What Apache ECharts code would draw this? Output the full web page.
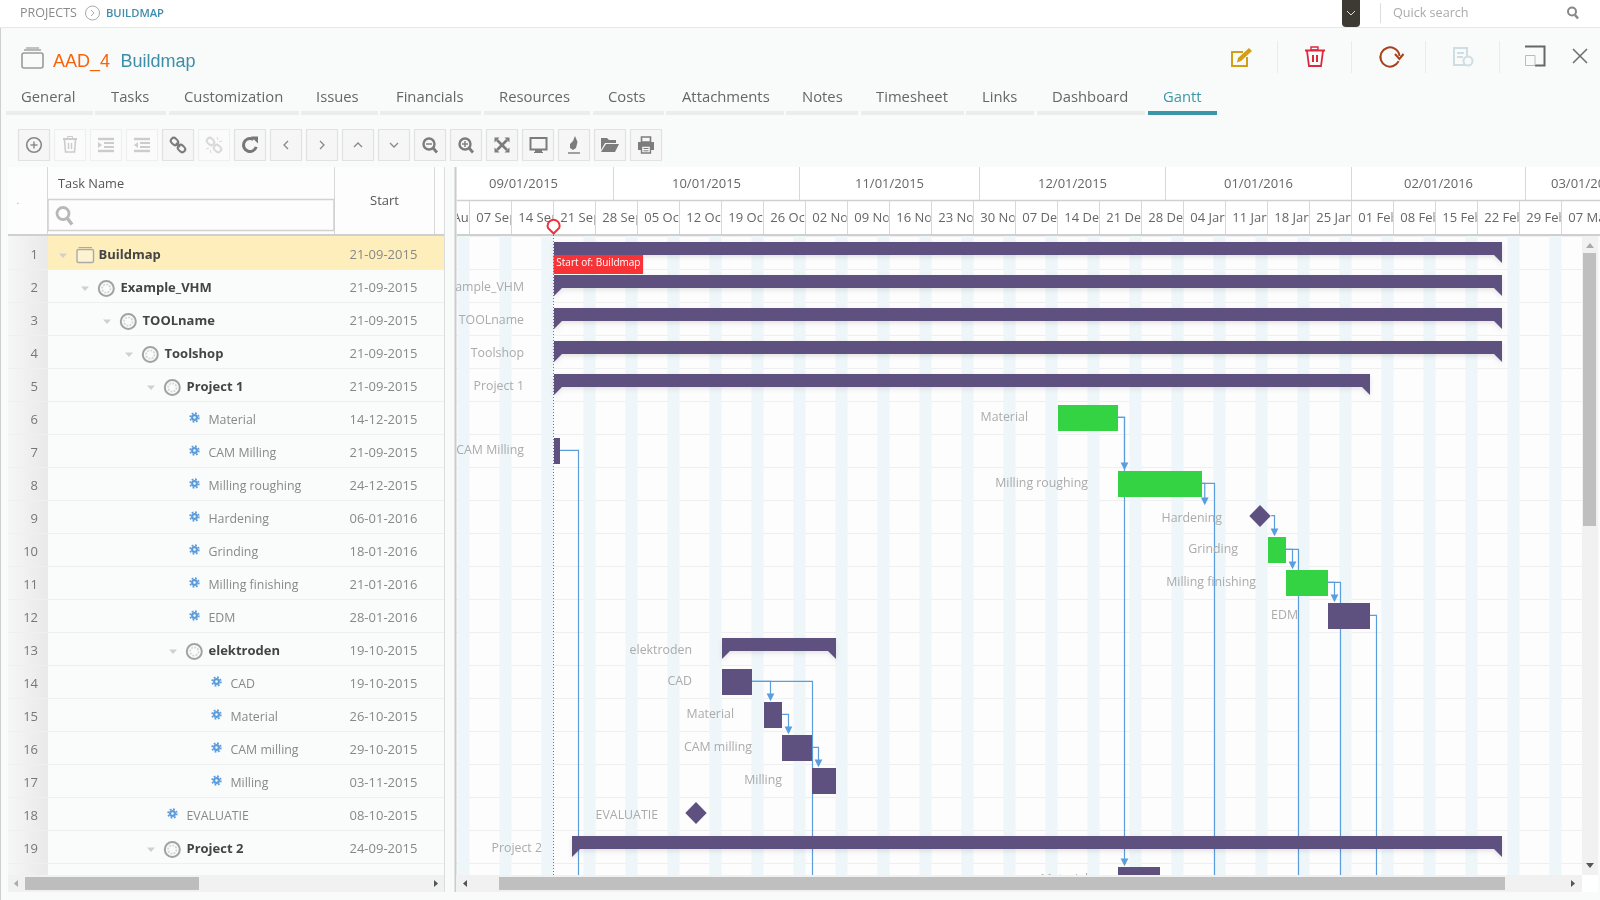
<!DOCTYPE html>
<html><head><meta charset="utf-8"><title>Buildmap Gantt</title>
<script src="https://cdn.jsdelivr.net/npm/echarts@6/dist/echarts.min.js"></script>
<style>html,body{margin:0;padding:0;background:#f9fbfa}#c{width:1600px;height:900px}</style></head>
<body><div id="c"></div><script>
// ---------- data ----------
const taskNames=['Buildmap','Example_VHM','TOOLname','Toolshop','Project 1','Material','CAM Milling','Milling roughing','Hardening','Grinding','Milling finishing','EDM','elektroden','CAD','Material','CAM milling','Milling','EVALUATIE','Project 2','Material'];
const startLabels=['21-09-2015','21-09-2015','21-09-2015','21-09-2015','21-09-2015','14-12-2015','21-09-2015','24-12-2015','06-01-2016','18-01-2016','21-01-2016','28-01-2016','19-10-2015','19-10-2015','26-10-2015','29-10-2015','03-11-2015','08-10-2015','24-09-2015'];
const treeLevels=[0,1,2,3,4,5,5,5,5,5,5,5,5,6,6,6,6,4,4,5];
const taskKinds=['S','S','S','S','S','T','T','T','M','T','T','T','S','T','T','T','T','M','S','T'];
const barStarts=['2015-09-21','2015-09-21','2015-09-21','2015-09-21','2015-09-21','2015-12-14','2015-09-21','2015-12-24','2016-01-16T18:00:00Z','2016-01-18','2016-01-21','2016-01-28','2015-10-19','2015-10-19','2015-10-26','2015-10-29','2015-11-03','2015-10-14T18:00:00Z','2015-09-24','2015-12-24'];
const barEnds=['2016-02-26','2016-02-26','2016-02-26','2016-02-26','2016-02-04','2015-12-24','2015-09-22','2016-01-07','2016-01-16T18:00:00Z','2016-01-21','2016-01-28','2016-02-04','2015-11-07','2015-10-24','2015-10-29','2015-11-03','2015-11-07','2015-10-14T18:00:00Z','2016-02-26','2015-12-31'];
const criticalFlags=[0,0,0,0,0,1,0,1,0,1,1,0,0,0,0,0,0,0,0,0];
const linkFrom=[7,6,6,8,8,9,10,10,11,11,12,14,14,15,16];
const linkTo=[25,8,20,9,25,10,11,25,12,25,25,15,25,16,17];
const linkTargetDates=['2015-09-24','2015-12-24','2015-12-24','2016-01-06T09:00:00Z','2016-01-08','2016-01-18','2016-01-21','2016-01-22','2016-01-28','2016-01-29','2016-02-04','2015-10-26','2015-11-02','2015-10-29','2015-11-03'];
const monthLabels=['09/01/2015','10/01/2015','11/01/2015','12/01/2015','01/01/2016','02/01/2016','03/01/2016'];
const monthStarts=['2015-09-01','2015-10-01','2015-11-01','2015-12-01','2016-01-01','2016-02-01','2016-03-01'];
const monthEnds=['2015-10-01','2015-11-01','2015-12-01','2016-01-01','2016-02-01','2016-03-01','2016-03-21'];
const weekLabels=['31 Aug','07 Sep','14 Sep','21 Sep','28 Sep','05 Oct','12 Oct','19 Oct','26 Oct','02 Nov','09 Nov','16 Nov','23 Nov','30 Nov','07 Dec','14 Dec','21 Dec','28 Dec','04 Jan','11 Jan','18 Jan','25 Jan','01 Feb','08 Feb','15 Feb','22 Feb','29 Feb','07 Mar'];
const weekStarts=['2015-08-31','2015-09-07','2015-09-14','2015-09-21','2015-09-28','2015-10-05','2015-10-12','2015-10-19','2015-10-26','2015-11-02','2015-11-09','2015-11-16','2015-11-23','2015-11-30','2015-12-07','2015-12-14','2015-12-21','2015-12-28','2016-01-04','2016-01-11','2016-01-18','2016-01-25','2016-02-01','2016-02-08','2016-02-15','2016-02-22','2016-02-29','2016-03-07'];
const weekendStarts=['2015-09-05','2015-09-12','2015-09-19','2015-09-26','2015-10-03','2015-10-10','2015-10-17','2015-10-24','2015-10-31','2015-11-07','2015-11-14','2015-11-21','2015-11-28','2015-12-05','2015-12-12','2015-12-19','2015-12-26','2016-01-02','2016-01-09','2016-01-16','2016-01-23','2016-01-30','2016-02-06','2016-02-13','2016-02-20','2016-02-27','2016-03-05'];
const weekendEnds=['2015-09-07','2015-09-14','2015-09-21','2015-09-28','2015-10-05','2015-10-12','2015-10-19','2015-10-26','2015-11-02','2015-11-09','2015-11-16','2015-11-23','2015-11-30','2015-12-07','2015-12-14','2015-12-21','2015-12-28','2016-01-04','2016-01-11','2016-01-18','2016-01-25','2016-02-01','2016-02-08','2016-02-15','2016-02-22','2016-02-29','2016-03-07'];
const projectStart='2015-09-21';
const tabLabels=['General','Tasks','Customization','Issues','Financials','Resources','Costs','Attachments','Notes','Timesheet','Links','Dashboard','Gantt'];
// ---------- page furniture ----------
const OS='"Open Sans"';
const PURPLE='#5e517f',GREEN='#33d344',LINK='#5a9edd';
const tabTextX=[21,111,184,316,396,499,608,682,802,876,982,1052,1163];
const tabEdges=[[6,93],[95,166],[169,299],[301,378],[380,481],[484,590],[593,664],[666,784],[786,858],[861,964],[966,1034],[1037,1145],[1148,1217]];
const G=[];
const R=(x,y,w,h,fill,stroke,lw,r)=>G.push({type:'rect',z:1,silent:true,shape:{x,y,width:w,height:h,r:r||0},style:{fill:fill||'none',stroke:stroke||'none',lineWidth:lw||1}});
const L=(x1,y1,x2,y2,c,w)=>G.push({type:'line',z:1,silent:true,shape:{x1,y1,x2,y2},style:{stroke:c,lineWidth:w||1}});
const C=(cx,cy,r,fill,stroke,lw,dash)=>G.push({type:'circle',z:1,silent:true,shape:{cx,cy,r},style:{fill:fill||'none',stroke:stroke||'none',lineWidth:lw||1,lineDash:dash||null}});
const A=(cx,cy,r,s,e,c,w)=>G.push({type:'arc',z:1,silent:true,shape:{cx,cy,r,startAngle:s,endAngle:e,clockwise:true},style:{stroke:c,lineWidth:w,fill:'none'}});
const P=(pts,fill)=>G.push({type:'polygon',z:1,silent:true,shape:{points:pts},style:{fill}});
const PL=(pts,c,w)=>G.push({type:'polyline',z:1,silent:true,shape:{points:pts},style:{stroke:c,lineWidth:w||1,fill:'none'}});
const T=(x,y,text,font,fill,align)=>G.push({type:'text',z:1,silent:true,x,y,style:{text,font,fill,align:align||'left',textAlign:align||'left',verticalAlign:'middle',textVerticalAlign:'middle'}});

// top bar
R(0,0,1600,27,'#ffffff');L(0,27.5,1600,27.5,'#e8e8e8',1);L(0.5,28,0.5,900,'#cfcfcf',1);
T(20,13.5,'PROJECTS','12.5px '+OS,'#8a8a8a');C(92.5,13,7,null,'#aaa',1);PL([[91,10],[94,13],[91,16]],'#aaa',1);
T(106,13.5,'BUILDMAP','600 11.2px '+OS,'#3d8caa');
R(1342,-6,18,33,'#3d3a33',null,1,4);PL([[1347,11],[1351,15],[1355,11]],'#ddd',1);
L(1380.5,3,1380.5,23,'#dddddd',1);T(1393,13,'Quick search','12.6px '+OS,'#aaaaaa');
C(1572,11.5,4,null,'#888',2);L(1575,15,1578,18.5,'#888',2.5);
// title
R(22,53,21,15,null,'#9a9a9a',1.6,2);L(24,50,41,50,'#9a9a9a',1.4);L(26,48,39,48,'#9a9a9a',1.2);
T(53,62,'AAD_4','18px "Liberation Sans"','#f8630a');T(120.5,62,'Buildmap','18px "Liberation Sans"','#3d8ea6');
// action icons
[1277.5,1351.5,1425.5,1499.5].forEach(x=>L(x,41,x,73,'#e9ecec',1));
PL([[1243,52],[1232,52],[1232,66],[1247,66],[1247,57]],'#d49f14',2);P([[1249,48],[1252,51],[1241,61],[1237,62.5],[1238,58]],'#d49f14');
L(1305,50.5,1325,50.5,'#e0263c',2);R(1311,47,7,3,null,'#e0263c',1.4);PL([[1307,51],[1309,66],[1321,66],[1323,51]],'#e0263c',1.8);L(1313,55,1313,62,'#e0263c',2);L(1317,55,1317,62,'#e0263c',2);
A(1390,57,9.6,0.45,6.18,'#a8401a',2);PL([[1395,54],[1399.4,59],[1403.5,54]],'#a8401a',2);
R(1454,48,13,17,null,'#cfdde4',2);C(1468,61,4.5,'#f9fbfa','#cfdde4',2);L(1457,53,1464,53,'#cfdde4',2);L(1457,57,1463,57,'#cfdde4',2);
PL([[1525,46.5],[1544.5,46.5],[1544.5,65.5],[1535,65.5]],'#666',2);R(1525.5,55.5,9.5,10,null,'#bbbbbb',1);
L(1573,49,1587,63,'#707070',1.6);L(1587,49,1573,63,'#707070',1.6);
// tabs
tabLabels.forEach((t,i)=>{const on=t==='Gantt';T(tabTextX[i],98,t,'14.8px '+OS,on?'#3f98a9':'#666');
 R(tabEdges[i][0],111,tabEdges[i][1]-tabEdges[i][0],4,on?'#3b97a8':'#ececec');});
// toolbar
const dim=[1,2,3,5];
for(let i=0;i<18;i++){const off=dim.includes(i);R(18.5+36*i,129.5,31,31,off?'#fbfbfb':'#f6f6f6',off?'#efefef':'#e2e2e2',1.2);}
const bx=i=>34+36*i,cy=145,ic='#7c7c7c',id='#cccccc';
C(bx(0),cy,7.3,null,'#888',1.6);L(bx(0)-3.5,cy,bx(0)+3.5,cy,'#888',1.4);L(bx(0),cy-3.5,bx(0),cy+3.5,'#888',1.4);
{const x=bx(1);L(x-7,cy-6,x+7,cy-6,id,2);R(x-2.5,cy-8.5,5,2.5,null,id,1);PL([[x-5.5,cy-5],[x-4.5,cy+7],[x+4.5,cy+7],[x+5.5,cy-5]],id,1.6);L(x-1.5,cy-2,x-1.5,cy+4,id,1.4);L(x+1.5,cy-2,x+1.5,cy+4,id,1.4);}
[2,3].forEach(i=>{const x=bx(i);L(x-8,cy-6,x+8,cy-6,id,2.4);L(x-8,cy+6,x+8,cy+6,id,2.4);const a=i==2?x-2:x-2,b=i==2?x+8:x+8;[-2,2].forEach(d=>L(a,cy+d,b,cy+d,id,2));
 P(i==2?[[x-8,cy-3],[x-4,cy],[x-8,cy+3]]:[[x-4,cy-3],[x-8,cy],[x-4,cy+3]],id);});
[[4,ic],[5,'#d9d9d9']].forEach(([i,c])=>{const x=bx(i);G.push({type:'rect',z:1,silent:true,x:x-3.5,y:cy-3.5,rotation:-Math.PI/4,originX:0,originY:0,shape:{x:-4,y:-3,width:8,height:6,r:3},style:{fill:'none',stroke:c,lineWidth:2}});
 G.push({type:'rect',z:1,silent:true,x:x+3.5,y:cy+3.5,rotation:-Math.PI/4,shape:{x:-4,y:-3,width:8,height:6,r:3},style:{fill:'none',stroke:c,lineWidth:2}});if(i==4)L(x-2,cy-2,x+2,cy+2,c,2);
 else{L(x+3,cy-8,x+4,cy-5,c,1);L(x+8,cy-4,x+5,cy-3,c,1);L(x-3,cy+8,x-4,cy+5,c,1);L(x-8,cy+4,x-5,cy+3,c,1);}});
A(bx(6),cy,6.5,0.3,5.3,'#777',3);P([[bx(6)+1,cy-8.5],[bx(6)+8,cy-8.5],[bx(6)+8,cy-1.5]],'#777');
PL([[bx(7)+2,cy-4],[bx(7)-2,cy],[bx(7)+2,cy+4]],'#888',1.3);PL([[bx(8)-2,cy-4],[bx(8)+2,cy],[bx(8)-2,cy+4]],'#888',1.3);
PL([[bx(9)-4,cy+2],[bx(9),cy-2],[bx(9)+4,cy+2]],'#888',1.3);PL([[bx(10)-4,cy-2],[bx(10),cy+2],[bx(10)+4,cy-2]],'#888',1.3);
[11,12].forEach(i=>{const x=bx(i)-1;C(x,cy-1,5.5,null,ic,2.4);L(x+4,cy+3,x+8,cy+7.5,ic,2.8);L(x-3,cy-1,x+3,cy-1,ic,1.4);if(i==12)L(x,cy-4,x,cy+2,ic,1.4);});
{const x=bx(13);L(x-5,cy-5,x+5,cy+5,ic,2.6);L(x+5,cy-5,x-5,cy+5,ic,2.6);[[-1,-1],[1,-1],[-1,1],[1,1]].forEach(([a,b])=>P([[x+a*7.5,cy+b*7.5],[x+a*2.5,cy+b*7.5],[x+a*7.5,cy+b*2.5]],ic));}
{const x=bx(14);R(x-7.5,cy-7,16,11.5,'#f6f6f6',ic,2);R(x-3,cy+5,7,2.5,ic);L(x-4,cy+7.5,x+5,cy+7.5,ic,1);}
{const x=bx(15);P([[x+1,cy-9],[x+3.5,cy-3],[x+2,cy+3],[x-1,cy+5],[x-4,cy+3],[x-4,cy-1],[x-1,cy-4]],ic);L(x-6,cy+8,x+6,cy+8,ic,1.4);}
{const x=bx(16);P([[x-9,cy-7],[x-3,cy-7],[x-1,cy-5],[x+6,cy-5],[x+6,cy-2],[x-5,cy-2],[x-9,cy+5]],ic);P([[x-4,cy-1],[x+9,cy-1],[x+5,cy+7],[x-9,cy+7]],ic);}
{const x=bx(17);R(x-4.5,cy-8,9,5,null,ic,1.6);R(x-8,cy-3,16,8,ic);R(x-4.5,cy+1,9,7,'#f6f6f6',ic,1.4);L(x-2.5,cy+3.5,x+2.5,cy+3.5,ic,1);L(x-2.5,cy+5.8,x+2.5,cy+5.8,ic,1);}
// left table
R(8,167,436,67,'#fdfdfd');R(8,236,436,639,'#fafcfb');
R(8,236,40,639,{type:'linear',x:0,y:0,x2:1,y2:0,colorStops:[{offset:0,color:'#f6f6f6'},{offset:1,color:'#e9e9e9'}]});
R(48,236,396,33,'#feeebc');
for(let i=1;i<=19;i++)L(8,236+33*i+.5,444,236+33*i+.5,'#eef0ef',1);
[47,334,434].forEach(x=>L(x+.5,167,x+.5,234,'#d8d8d8',1));
L(8,235,444,235,'#cfcfcf',2);L(444.5,167,444.5,892,'#dddddd',1);L(455.5,167,455.5,892,'#cccccc',2);
T(58,184,'Task Name','12.8px '+OS,'#555');T(384.5,201,'Start','13px '+OS,'#555','center');
R(48,199.5,286,31,'#fdfdfd','#d2d2d2',1.6);C(63,213.5,6,null,'#b8b8b8',2.8);L(67.5,218.5,72,224.5,'#b8b8b8',3.4);
T(18,201,'.','9px '+OS,'#999','center');
startLabels.forEach((d,i)=>{const rowTop=236+33*i,tx=98.5+22*treeLevels[i],ty=rowTop+19.5,sum=taskKinds[i]==='S';
 T(38,ty,String(i+1),'13px '+OS,'#777','right');
 T(tx,ty,taskNames[i],(sum?'bold 13px ':'12.35px ')+OS,sum?'#444':'#888');
 T(349.5,ty,d,'13px '+OS,'#888');
 if(sum){P([[tx-39.5,ty-2],[tx-31.5,ty-2],[tx-35.5,ty+2.5]],'#d0d0d0');
  if(i===0){R(tx-21.5,ty-6,16.5,13,'#fdf3d3','#aaa',1.4,1.5);L(tx-20,ty-8,tx-6.5,ty-8,'#aaa',1);}
  else{C(tx-14.2,ty,7.5,'#fafcfb','#a2a2a2',2);C(tx-14.2,ty,4.2,null,'#d6d6d6',1.8,[2,1.2]);}}
 else{C(tx-14,ty-3,2.4,null,'#5b9bdc',2.2);C(tx-14,ty-3,4.4,null,'#5b9bdc',1.6,[1.8,1.66]);}
});
// scrollbars
R(8,875,436,17,'#f1f1f1');R(25,877,174,13,'#bdbdbd');P([[18,880],[14,883.5],[18,887]],'#aaa');P([[434,880],[438,883.5],[434,887]],'#555');
R(456,875,1126,17,'#f1f1f1');R(499,877,1006,13,'#bfbfbf');P([[467,880],[463,883.5],[467,887]],'#555');P([[1571,880],[1575,883.5],[1571,887]],'#555');
R(1582,236,16,639,'#f1f1f1');R(1583,253,13,273,'#bfbfbf');P([[1586,248],[1590,243],[1594,248]],'#aaa');P([[1586,863],[1590,868],[1594,863]],'#555');
R(1582,875,16,17,'#ffffff');
// timeline header background
R(457,167,1143,67,'#ffffff');L(457,200.5,1600,200.5,'#d0d0d0',1.4);L(457,235,1600,235,'#cfcfcf',2);

// ---------- chart series ----------
const ms=s=>Date.parse(s);
const gridTop=236,ROW=33,gridBottom=875;
const rowData=taskNames.map((n,i)=>[ms(barStarts[i]),ms(barEnds[i]),i]);
const rect=(x,y,w,h,fill,extra)=>({type:'rect',shape:{x,y,width:w,height:h},style:Object.assign({fill},extra||{})});
const series=[
{type:'custom',name:'weekends',z:2,clip:true,silent:true,data:weekendStarts.map((s,i)=>[ms(s),ms(weekendEnds[i])]),encode:{x:[0,1]},
 renderItem:(p,api)=>{const a=api.coord([api.value(0),0]),b=api.coord([api.value(1),0]);return rect(a[0]-.5,gridTop,b[0]-a[0],gridBottom-gridTop,'#eef6f9');}},
{type:'custom',name:'startLine',z:3,silent:true,data:[[ms(projectStart),0]],encode:{x:0,y:1},
 renderItem:(p,api)=>{const x=api.coord([api.value(0),0])[0]-.5;return {type:'line',shape:{x1:x,y1:232,x2:x,y2:gridBottom},style:{stroke:'#777',lineWidth:1,lineDash:[1,2]}};}},
{type:'custom',name:'links',z:4,clip:true,silent:true,data:linkFrom.map((f,i)=>[ms(linkTargetDates[i]),f-1,linkTo[i]-1]),encode:{x:0,y:1},
 renderItem:(p,api)=>{const f=api.value(1),t=api.value(2),k=taskKinds[f];
  const ex=ms(barEnds[f]);let x0=api.coord([ex,f])[0];if(k==='M')x0+=10.7;
  const y0=api.coord([ex,f])[1]+(k==='M'?15.7:16.3);
  const ax=api.coord([api.value(0),0])[0]+6.5;
  const ty=t<20?api.coord([ex,t])[1]+(taskKinds[t]==='M'?5.3:3.3):gridBottom+5;
  const kids=[{type:'polyline',shape:{points:[[x0,y0],[ax,y0],[ax,ty-2]]},style:{stroke:LINK,lineWidth:1.2,fill:'none'}}];
  if(t<20)kids.push({type:'polygon',shape:{points:[[ax-3.9,ty-7.8],[ax+3.9,ty-7.8],[ax,ty]]},style:{fill:LINK}});
  return {type:'group',children:kids};}},
{type:'custom',name:'bars',z:5,clip:true,silent:true,data:rowData,encode:{x:[0,1],y:2},
 renderItem:(p,api)=>{const i=api.value(2),a=api.coord([api.value(0),i]),b=api.coord([api.value(1),i]),k=taskKinds[i],y=a[1];
  const col=criticalFlags[i]?GREEN:PURPLE;
  if(k==='M'){const c=y+16,x=a[0]-.5;return {type:'polygon',shape:{points:[[x-10.7,c],[x,c-11],[x+10.7,c],[x,c+11]]},style:{fill:PURPLE}};}
  if(k==='S'){const t=y+6,h=13,x1=a[0],x2=b[0];return {type:'polygon',shape:{points:[[x1,t],[x2,t],[x2,t+h+8],[x2-8,t+h],[x1+8,t+h],[x1,t+h+8]]},style:{fill:PURPLE,shadowColor:'rgba(0,0,0,0.10)',shadowBlur:4,shadowOffsetY:2}};}
  return rect(a[0],y+4,b[0]-a[0],26,col);}},
{type:'custom',name:'labels',z:6,clip:true,silent:true,data:rowData.slice(1),encode:{x:[0,1],y:2},
 renderItem:(p,api)=>{const i=api.value(2),c=api.coord([api.value(0),i]),k=taskKinds[i];
  const right=k==='M'?c[0]-38.5:c[0]-30;
  return {type:'text',style:{x:right,y:c[1]+(k==='T'?16.3:18.5),text:taskNames[i],font:'12.35px '+OS,fill:'#ababab',textAlign:'right',align:'right',verticalAlign:'middle',textVerticalAlign:'middle'}};}},
{type:'custom',name:'months',z:7,silent:true,data:monthStarts.map((s,i)=>[ms(s),ms(monthEnds[i])]),encode:{x:[0,1]},
 renderItem:(p,api)=>{const a=api.coord([api.value(0),0])[0],b=api.coord([api.value(1),0])[0];const kids=[];
  if(a>457)kids.push({type:'line',shape:{x1:Math.round(a)-.5,y1:167,x2:Math.round(a)-.5,y2:200},style:{stroke:'#d8d8d8',lineWidth:1}});
  kids.push({type:'text',clipPath:{type:'rect',shape:{x:457,y:160,width:1143,height:50}},style:{x:(a+b)/2-.5,y:184.5,text:monthLabels[p.dataIndex],font:'13px '+OS,fill:'#666',textAlign:'center',align:'center',verticalAlign:'middle',textVerticalAlign:'middle'}});
  return {type:'group',children:kids};}},
{type:'custom',name:'weeks',z:7,silent:true,data:weekStarts.map(s=>[ms(s),0]),encode:{x:0},
 renderItem:(p,api)=>{const a=api.coord([api.value(0),0])[0];const kids=[];const l=Math.max(a,457),r=Math.min(a+40.5,1600);
  if(a>457)kids.push({type:'line',shape:{x1:Math.round(a)-.5,y1:201,x2:Math.round(a)-.5,y2:234},style:{stroke:'#d8d8d8',lineWidth:1}});
  kids.push({type:'text',clipPath:{type:'rect',shape:{x:l,y:201,width:r-l,height:33}},style:{x:a+6.3,y:218.3,text:weekLabels[p.dataIndex],font:'13px '+OS,fill:'#666',textAlign:'left',align:'left',verticalAlign:'middle',textVerticalAlign:'middle'}});
  return {type:'group',children:kids};}},
{type:'custom',name:'startPin',z:8,silent:true,data:[[ms(projectStart),0]],encode:{x:0,y:1},
 renderItem:(p,api)=>{const c=api.coord([api.value(0),0]),x=c[0]-.4;return {type:'group',children:[
  {type:'path',shape:{pathData:`M${x} 233.5 L${x-5.6} 228 A6 6 0 1 1 ${x+5.6} 228 Z`},style:{fill:'#ffffff',stroke:'#f0303a',lineWidth:2}},
  rect(x,255,89.5,19,'#f73338'),
  {type:'text',style:{x:x+2.7,y:263.5,text:'Start of: '+taskNames[0],font:'10px '+OS,fill:'#ffffff',textAlign:'left',align:'left',verticalAlign:'middle',textVerticalAlign:'middle'}}]};}}
];
const chart=echarts.init(document.getElementById('c'),null,{width:1600,height:900});
chart.setOption({animation:false,backgroundColor:'#f9fbfa',tooltip:{show:false},
 grid:{left:456,right:18,top:236,bottom:25,show:true,backgroundColor:'#fdfdfd',borderWidth:0},
 xAxis:{type:'time',min:ms('2015-09-04T16:00:00Z'),max:ms('2016-03-10T08:00:00Z'),show:false},
 yAxis:{type:'value',inverse:true,min:0,max:(gridBottom-gridTop)/ROW,interval:1,axisLine:{show:false},axisTick:{show:false},axisLabel:{show:false},splitLine:{show:true,lineStyle:{color:'#efefef',width:1}}},
 graphic:{elements:G},series});
</script></body></html>
